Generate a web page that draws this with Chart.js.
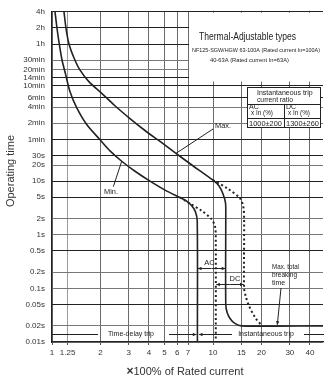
<!DOCTYPE html>
<html>
<head>
<meta charset="utf-8">
<script src="https://cdn.jsdelivr.net/npm/chart.js@4.4.0/dist/chart.umd.min.js"></script>
<style>
  body { margin: 0; background: #fff; }
  canvas { display: block; }
</style>
</head>
<body>
<canvas id="myChart" width="324" height="379"></canvas>
<script>
// x = multiple of rated current, y = operating time in seconds
const xTicks = [1, 1.25, 2, 3, 4, 5, 6, 7, 10, 15, 20, 30, 40];
const yTicks = [0.01, 0.02, 0.05, 0.1, 0.2, 0.5, 1, 2, 5, 10, 20, 30, 60, 120, 240, 360, 600, 840, 1200, 1800, 3600, 7200, 14400];
const yTickLabels = ['0.01s', '0.02s', '0.05s', '0.1s', '0.2s', '0.5s', '1s', '2s', '5s', '10s', '20s', '30s',
  '1min', '2min', '4min', '6min', '10min', '14min', '20min', '30min', '1h', '2h', '4h'];

// Max. curve (AC, solid)
const maxX = [1.187, 1.222, 1.275, 1.37, 1.49, 1.70, 1.99, 2.46, 3.05, 3.78, 4.69, 5.89, 7.2, 10, 10.9, 11.54, 11.96, 12.0, 12.0, 12.25, 12.75, 13.6, 15, 48.2];
const maxY = [14400, 7100, 3600, 1980, 1190, 710, 464, 255, 147, 88, 55, 33, 21.1, 10.4, 8.1, 5.75, 3.9, 2.5, 0.05, 0.035, 0.0275, 0.0225, 0.02, 0.02];
// Max. curve (DC, dotted)
const maxDcX = [10, 12.3, 14.7, 15.4, 15.6, 15.6, 16.0, 16.6, 18.2, 20];
const maxDcY = [10.4, 7.3, 4.8, 3.4, 2.0, 0.1, 0.07, 0.05, 0.029, 0.0205];
// Min. curve (AC, solid)
const minX = [1.044, 1.074, 1.11, 1.154, 1.213, 1.294, 1.423, 1.643, 1.987, 2.292, 2.71, 3.278, 4.062, 5.034, 6.237, 6.8, 7.4, 7.785, 7.98, 8.0];
const minY = [14400, 7110, 3594, 1816, 1000, 464, 234.6, 113.6, 59.2, 36.7, 23.5, 15.3, 10, 6.81, 4.95, 4.35, 3.44, 2.67, 1.82, 0.01];
// Min. curve (DC, dotted)
const minDcX = [6.237, 7.0, 8.5, 9.8, 10.3, 10.4, 10.4];
const minDcY = [4.95, 4.0, 2.8, 1.95, 1.4, 0.8, 0.01];

const acRange = [8, 12];      // instantaneous trip, AC 1000±200 %
const dcRange = [10.4, 15.6]; // instantaneous trip, DC 1300±260 %
const maxPointer = [5.89, 33];
const minPointer = [2.71, 23.5];

const FONT = 'Liberation Sans, Arial, sans-serif';
const INK = '#222';

const toPoints = (xs, ys) => xs.map((x, i) => ({ x: x, y: ys[i] }));

function text(ctx, str, x, y, size, align, maxW, weight) {
  ctx.font = (weight || 'normal') + ' ' + size + 'px ' + FONT;
  ctx.textAlign = align || 'left';
  ctx.textBaseline = 'middle';
  if (maxW) ctx.fillText(str, x, y, maxW);
  else ctx.fillText(str, x, y);
}

function seg(ctx, x1, y1, x2, y2) {
  ctx.beginPath();
  ctx.moveTo(x1, y1);
  ctx.lineTo(x2, y2);
  ctx.stroke();
}

function head(ctx, x1, y1, x2, y2, s) {
  const ang = Math.atan2(y2 - y1, x2 - x1);
  ctx.beginPath();
  ctx.moveTo(x2, y2);
  ctx.lineTo(x2 - s * Math.cos(ang - 0.45), y2 - s * Math.sin(ang - 0.45));
  ctx.lineTo(x2 - s * Math.cos(ang + 0.45), y2 - s * Math.sin(ang + 0.45));
  ctx.closePath();
  ctx.fill();
}

function arrow(ctx, x1, y1, x2, y2, s) {
  seg(ctx, x1, y1, x2, y2);
  head(ctx, x1, y1, x2, y2, s);
}

const overlay = {
  id: 'overlay',
  beforeDatasetsDraw(chart) {
    const { ctx, chartArea: a, scales: { x, y } } = chart;
    ctx.save();
    ctx.fillStyle = '#fff';
    const left = x.getPixelForValue(7) + 1;
    const bottom = y.getPixelForValue(720);
    ctx.fillRect(left, a.top + 1, a.right + 2 - left, bottom - a.top - 1);
    ctx.restore();
  },
  afterDatasetsDraw(chart) {
    const { ctx, chartArea: a, scales: { x, y } } = chart;
    const px = v => x.getPixelForValue(v);
    const py = v => y.getPixelForValue(v);
    ctx.save();
    ctx.strokeStyle = INK;
    ctx.fillStyle = INK;
    ctx.lineWidth = 1;

    // heading
    text(ctx, 'Thermal-Adjustable types', 247.5, 37, 10.5, 'center', 97);
    text(ctx, 'NF125-SGW/HGW 63-100A (Rated current In=100A)', 256, 50, 6, 'center', 128);
    text(ctx, '40-63A (Rated current In=63A)', 249.5, 60, 6, 'center', 79);

    // trip ratio table
    ctx.fillStyle = '#fff';
    ctx.fillRect(247, 87, 74, 41);
    ctx.fillStyle = INK;
    ctx.strokeRect(247.5, 87.5, 73, 40);
    seg(ctx, 247.5, 104.5, 320.5, 104.5);
    seg(ctx, 247.5, 118.5, 320.5, 118.5);
    seg(ctx, 284.5, 104.5, 284.5, 127.5);
    text(ctx, 'Instantaneous trip', 257, 93, 7, 'left', 56);
    text(ctx, 'current ratio', 257, 100, 7, 'left', 36);
    text(ctx, 'AC', 249, 107.5, 7, 'left');
    text(ctx, 'x In (%)', 251, 113.5, 7, 'left', 22);
    text(ctx, 'DC', 286, 107.5, 7, 'left');
    text(ctx, 'x In (%)', 288, 113.5, 7, 'left', 22);
    text(ctx, '1000\u00b1200', 249, 123.5, 7.5, 'left', 33);
    text(ctx, '1300\u00b1260', 286, 123.5, 7.5, 'left', 33);

    // Max. / Min. leaders
    text(ctx, 'Max.', 215, 126, 7.5, 'left', 16);
    seg(ctx, 213, 129, px(maxPointer[0]), py(maxPointer[1]));
    text(ctx, 'Min.', 104, 192, 7.5, 'left', 14);
    seg(ctx, 113.3, 186.7, px(minPointer[0]), py(minPointer[1]));

    // AC / DC trip ranges
    const yAc = Math.round(py(0.24)) + 0.5;
    arrow(ctx, px(acRange[0]) + 14, yAc, px(acRange[0]) + 0.5, yAc, 4);
    arrow(ctx, px(acRange[1]) - 14, yAc, px(acRange[1]) - 0.5, yAc, 4);
    text(ctx, 'AC', 209.5, 263, 7.5, 'center');
    const yDc = Math.round(py(0.122)) + 0.5;
    arrow(ctx, px(dcRange[0]) + 14, yDc, px(dcRange[0]) + 0.5, yDc, 4);
    arrow(ctx, px(dcRange[1]) - 14, yDc, px(dcRange[1]) - 0.5, yDc, 4);
    text(ctx, 'DC', 235, 279, 7.5, 'center');

    // Max. total breaking time
    text(ctx, 'Max. total', 272, 267, 7, 'left', 27);
    text(ctx, 'breaking', 272, 275, 7, 'left', 25);
    text(ctx, 'time', 272, 283, 7, 'left', 14);
    arrow(ctx, 281, 288, 277.3, py(0.02) - 1, 4);

    // time-delay / instantaneous trip line
    const yT = Math.round(py(0.014)) + 0.5;
    const x8 = px(acRange[0]);
    seg(ctx, a.left, yT, 98, yT);
    text(ctx, 'Time-delay trip', 131, yT, 7, 'center', 46);
    arrow(ctx, 169, yT, x8 - 1, yT, 4);
    arrow(ctx, 232, yT, x8 + 1.5, yT, 4);
    text(ctx, 'Instantaneous trip', 266, yT, 7, 'center', 64);
    seg(ctx, 304, yT, a.right + 1, yT);

    ctx.restore();
  },
  afterDraw(chart) {
    const ctx = chart.ctx;
    ctx.save();
    ctx.fillStyle = '#333';
    // y title
    ctx.translate(11, 171);
    ctx.rotate(-Math.PI / 2);
    text(ctx, 'Operating time', 0, 0, 11, 'center');
    ctx.restore();
    // x title
    ctx.save();
    ctx.fillStyle = '#333';
    ctx.font = 'bold 12px ' + FONT;
    const w1 = ctx.measureText('\u00d7').width;
    ctx.font = 'normal 11px ' + FONT;
    const w2 = ctx.measureText('100% of Rated current').width;
    const x0 = 185 - (w1 + w2) / 2;
    text(ctx, '\u00d7', x0, 372, 12, 'left', null, 'bold');
    text(ctx, '100% of Rated current', x0 + w1, 372, 11, 'left');
    ctx.restore();
  }
};

const darkRows = [14400, 7200, 3600, 840, 600, 360, 60, 30, 10, 5, 0.5, 0.05];
const curve = { pointRadius: 0, borderColor: INK, borderWidth: 1.6, tension: 0.3, fill: false };
const dotted = Object.assign({}, curve, { borderWidth: 2, borderDash: [2, 2.6] });

const config = {
  type: 'line',
  data: {
    datasets: [
      Object.assign({ label: 'Max.', data: toPoints(maxX, maxY) }, curve),
      Object.assign({ label: 'Max. DC', data: toPoints(maxDcX, maxDcY) }, dotted),
      Object.assign({ label: 'Min.', data: toPoints(minX, minY) }, curve),
      Object.assign({ label: 'Min. DC', data: toPoints(minDcX, minDcY) }, dotted)
    ]
  },
  options: {
    responsive: false,
    animation: false,
    layout: { padding: { top: 10, right: 1, left: 0, bottom: 0 } },
    plugins: { legend: { display: false }, tooltip: { enabled: false } },
    scales: {
      x: {
        type: 'logarithmic',
        min: 1,
        max: 48.2,
        afterBuildTicks: s => { s.ticks = xTicks.map(v => ({ value: v })); },
        afterFit: s => { s.height = 37; },
        ticks: {
          autoSkip: false, maxRotation: 0, padding: 3,
          color: '#333', font: { family: FONT, size: 8 },
          callback: v => String(v)
        },
        grid: {
          color: c => (c.tick && c.tick.value === 1.25) ? '#9a9a9a' : '#6a6a6a',
          lineWidth: 1, tickLength: 3, tickColor: '#555'
        },
        border: { color: INK, width: 1.2 }
      },
      y: {
        type: 'logarithmic',
        min: 0.01,
        max: 14400,
        afterBuildTicks: s => { s.ticks = yTicks.map(v => ({ value: v })); },
        afterFit: s => { s.width = 52; },
        ticks: {
          autoSkip: false, padding: 7,
          color: '#333', font: { family: FONT, size: 8 },
          callback: (v, i) => yTickLabels[i]
        },
        grid: {
          color: c => (c.tick && darkRows.includes(c.tick.value)) ? '#222' : '#777',
          lineWidth: 1, drawTicks: false
        },
        border: { color: INK, width: 1.2 }
      }
    }
  },
  plugins: [overlay]
};

let myChart = new Chart(document.getElementById('myChart'), config);
</script>
</body>
</html>
